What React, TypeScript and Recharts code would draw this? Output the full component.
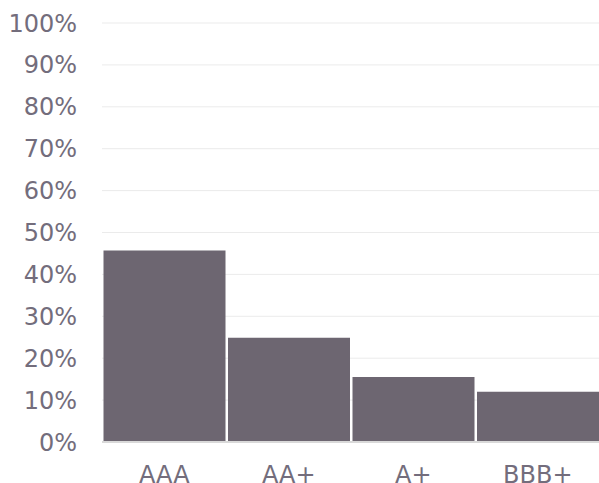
import { BarChart, Bar, XAxis, YAxis, CartesianGrid } from "recharts";

const RATINGS = ["AAA", "AA+", "A+", "BBB+"];
const SHARES = [45.7, 24.9, 15.5, 12.0];
const Y_TICKS = [0, 10, 20, 30, 40, 50, 60, 70, 80, 90, 100];

const FONT = { fontFamily: "DejaVu Sans", fontSize: 24, fill: "#736d7c" };

export default function App() {
  const data = RATINGS.map((r, i) => ({ rating: r, share: SHARES[i] }));

  return (
    <div style={{ position: "absolute", left: 0, top: 0, width: 599, height: 483, overflow: "hidden" }}>
      <BarChart
        width={600}
        height={483}
        data={data}
        margin={{ top: 23, right: 0, left: 0, bottom: 0 }}
        barCategoryGap={1.5}
      >
        <CartesianGrid horizontal vertical={false} stroke="#ebebeb" />
        <XAxis
          dataKey="rating"
          tick={FONT}
          tickLine={false}
          tickSize={0}
          tickMargin={24}
          axisLine={{ stroke: "#d9d9d9", strokeWidth: 2 }}
          height={41}
          interval={0}
        />
        <YAxis
          domain={[0, 100]}
          ticks={Y_TICKS}
          tickFormatter={(v) => `${v}%`}
          tick={FONT}
          tickLine={false}
          tickSize={0}
          tickMargin={25}
          axisLine={false}
          width={102}
          interval={0}
        />
        <Bar dataKey="share" fill="#6d6671" isAnimationActive={false} />
      </BarChart>
    </div>
  );
}
